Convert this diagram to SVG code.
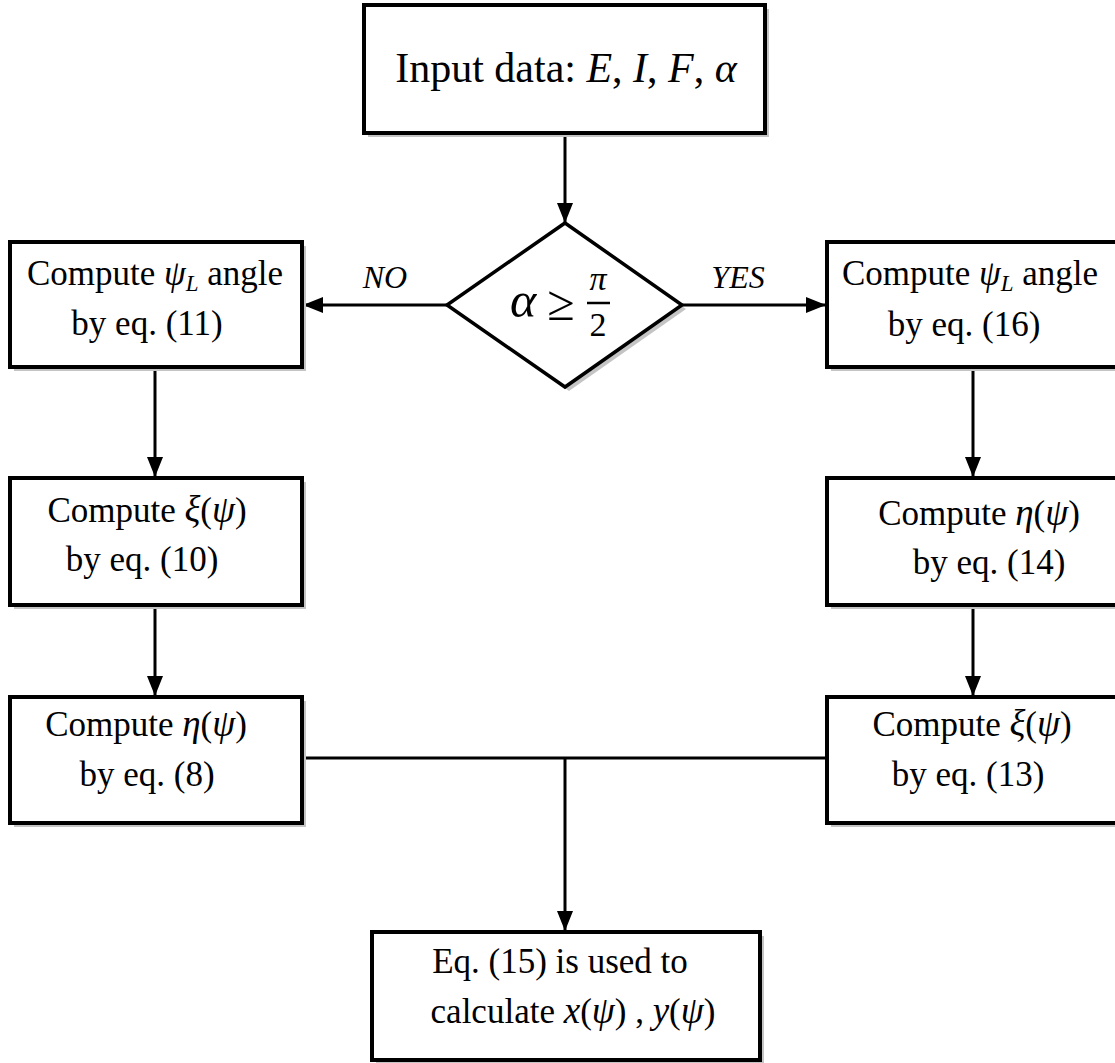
<svg xmlns="http://www.w3.org/2000/svg" width="1115" height="1063" viewBox="0 0 1115 1063">
<defs>
<style>
.box{fill:#fff;stroke:#000;stroke-width:4}
.sh{fill:#c4c4c4}
.t{font-family:"Liberation Serif","Times New Roman",serif;font-size:35px;fill:#000;text-anchor:middle}
.i{font-style:italic}
.m{font-style:italic;font-size:37px}
.c{fill:none;stroke:#000;stroke-width:3}
</style>
<marker id="ah" markerWidth="20" markerHeight="16" refX="19" refY="8" orient="auto" markerUnits="userSpaceOnUse">
<path d="M0,0 L20,8 L0,16 Z" fill="#000"/>
</marker>
</defs>
<rect width="1115" height="1063" fill="#fff"/>

<g id="connectors">
<line class="c" x1="565" y1="135" x2="565" y2="222" marker-end="url(#ah)"/>
<line class="c" x1="447" y1="305" x2="304" y2="305" marker-end="url(#ah)"/>
<line class="c" x1="682" y1="305" x2="825" y2="305" marker-end="url(#ah)"/>
<line class="c" x1="155" y1="369" x2="155" y2="476" marker-end="url(#ah)"/>
<line class="c" x1="973" y1="369" x2="973" y2="476" marker-end="url(#ah)"/>
<line class="c" x1="155" y1="607" x2="155" y2="695" marker-end="url(#ah)"/>
<line class="c" x1="973" y1="607" x2="973" y2="695" marker-end="url(#ah)"/>
<line class="c" x1="304" y1="758" x2="825" y2="758"/>
<line class="c" x1="565" y1="758" x2="565" y2="930" marker-end="url(#ah)"/>
<text class="t i" x="385" y="288" style="font-size:32px">NO</text>
<text class="t i" x="738" y="288" style="font-size:32px">YES</text>
</g>

<g id="input">
<rect class="sh" x="368" y="9" width="401" height="128"/>
<rect class="box" x="364" y="5" width="401" height="128"/>
<text class="t" x="566" y="82" style="font-size:42px">Input data: <tspan class="i">E</tspan>, <tspan class="i">I</tspan>, <tspan class="i">F</tspan>, <tspan class="i">α</tspan></text>
</g>

<g id="decision">
<polygon class="sh" points="569,227 686,309 569,391 451,309"/>
<polygon class="box" points="565,223 682,305 565,387 447,305" style="stroke-width:3.5"/>
<text class="t i" x="523" y="317" style="font-size:50px">α</text>
<text class="t" x="561" y="320" style="font-size:50px">≥</text>
<text class="t i" x="598" y="290" style="font-size:34px">π</text>
<line x1="587" y1="303" x2="610" y2="303" stroke="#000" stroke-width="2.5"/>
<text class="t" x="598" y="336" style="font-size:34px">2</text>
</g>

<g id="psiL-left">
<rect class="sh" x="14" y="246" width="292" height="125"/>
<rect class="box" x="10" y="242" width="292" height="125"/>
<text class="t" x="155" y="285">Compute <tspan class="i">ψ</tspan><tspan class="i" style="font-size:23px" dy="6">L</tspan><tspan dy="-6"> angle</tspan></text>
<text class="t" x="147" y="335">by eq. (11)</text>
</g>

<g id="psiL-right">
<rect class="sh" x="831" y="246" width="300" height="125"/>
<rect class="box" x="827" y="242" width="300" height="125"/>
<text class="t" x="970" y="285">Compute <tspan class="i">ψ</tspan><tspan class="i" style="font-size:23px" dy="6">L</tspan><tspan dy="-6"> angle</tspan></text>
<text class="t" x="964" y="336">by eq. (16)</text>
</g>

<g id="xi-left">
<rect class="sh" x="14" y="482" width="292" height="127"/>
<rect class="box" x="10" y="478" width="292" height="127"/>
<text class="t" x="147" y="522">Compute <tspan class="m">ξ</tspan>(<tspan class="m">ψ</tspan>)</text>
<text class="t" x="142" y="571">by eq. (10)</text>
</g>

<g id="eta-right">
<rect class="sh" x="831" y="482" width="300" height="127"/>
<rect class="box" x="827" y="478" width="300" height="127"/>
<text class="t" x="979" y="525">Compute <tspan class="m">η</tspan>(<tspan class="m">ψ</tspan>)</text>
<text class="t" x="989" y="574">by eq. (14)</text>
</g>

<g id="eta-left">
<rect class="sh" x="14" y="701" width="292" height="126"/>
<rect class="box" x="10" y="697" width="292" height="126"/>
<text class="t" x="146" y="736">Compute <tspan class="m">η</tspan>(<tspan class="m">ψ</tspan>)</text>
<text class="t" x="147" y="786">by eq. (8)</text>
</g>

<g id="xi-right">
<rect class="sh" x="831" y="701" width="300" height="126"/>
<rect class="box" x="827" y="697" width="300" height="126"/>
<text class="t" x="972" y="736">Compute <tspan class="m">ξ</tspan>(<tspan class="m">ψ</tspan>)</text>
<text class="t" x="968" y="786">by eq. (13)</text>
</g>

<g id="result">
<rect class="sh" x="376" y="936" width="388" height="128"/>
<rect class="box" x="372" y="932" width="388" height="128"/>
<text class="t" x="560" y="973">Eq. (15) is used to</text>
<text class="t" x="573" y="1023">calculate <tspan class="m">x</tspan>(<tspan class="m">ψ</tspan>) , <tspan class="m">y</tspan>(<tspan class="m">ψ</tspan>)</text>
</g>
</svg>
